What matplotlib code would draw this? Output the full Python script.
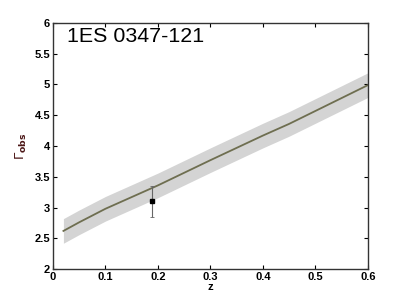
import numpy as np
import matplotlib
matplotlib.use('Agg')
import matplotlib.pyplot as plt

plt.rcParams['font.family'] = ['Liberation Sans', 'DejaVu Sans']

# model curve and its uncertainty band
z = [0.02, 0.05, 0.1, 0.2, 0.3, 0.4, 0.45, 0.5, 0.6]
gamma = [2.62, 2.76, 2.98, 3.36, 3.77, 4.17, 4.36, 4.57, 4.99]
gamma_hi = [2.82, 2.96, 3.18, 3.56, 3.97, 4.37, 4.56, 4.77, 5.19]
gamma_lo = [2.42, 2.56, 2.78, 3.16, 3.57, 3.97, 4.16, 4.37, 4.79]

# measured point
z_obs = [0.188]
gamma_obs = [3.10]
err_lo = [0.26]
err_hi = [0.25]

fig = plt.figure(figsize=(4.07, 3.02), dpi=100)
ax = fig.add_axes([0.130, 0.109, 0.774, 0.815])

ax.fill_between(z, gamma_lo, gamma_hi, color='#d4d4d4', linewidth=0)
ax.plot(z, gamma, color='#6e6e50', linewidth=1.3)
ax.errorbar(z_obs, gamma_obs, yerr=[err_lo, err_hi], fmt='s', color='black',
            markersize=2.2, ecolor='#666666', elinewidth=0.8, capsize=1.2, capthick=0.6)

ax.set_xlim(0, 0.6)
ax.set_ylim(2, 6)
ax.set_xticks([0, 0.1, 0.2, 0.3, 0.4, 0.5, 0.6])
ax.set_xticklabels(['0', '0.1', '0.2', '0.3', '0.4', '0.5', '0.6'])
ax.set_yticks([2, 2.5, 3, 3.5, 4, 4.5, 5, 5.5, 6])
ax.set_yticklabels(['2', '2.5', '3', '3.5', '4', '4.5', '5', '5.5', '6'])
ax.tick_params(direction='in', length=3, width=0.8, labelsize=8, pad=2,
               top=True, right=True)
for lab in ax.get_xticklabels() + ax.get_yticklabels():
    lab.set_fontweight('bold')
for s in ax.spines.values():
    s.set_linewidth(1.0)
    s.set_color('#333333')

ax.set_xlabel('z', fontsize=8, fontweight='bold', labelpad=0)
ax.set_ylabel(r'$\Gamma_{\mathbf{obs}}$', fontsize=9.5, color='#4a1515', labelpad=4)

ax.text(0.045, 0.985, '1ES 0347-121', transform=ax.transAxes, fontsize=15.4,
        va='top', ha='left')

fig.savefig('out.png', dpi=100)
